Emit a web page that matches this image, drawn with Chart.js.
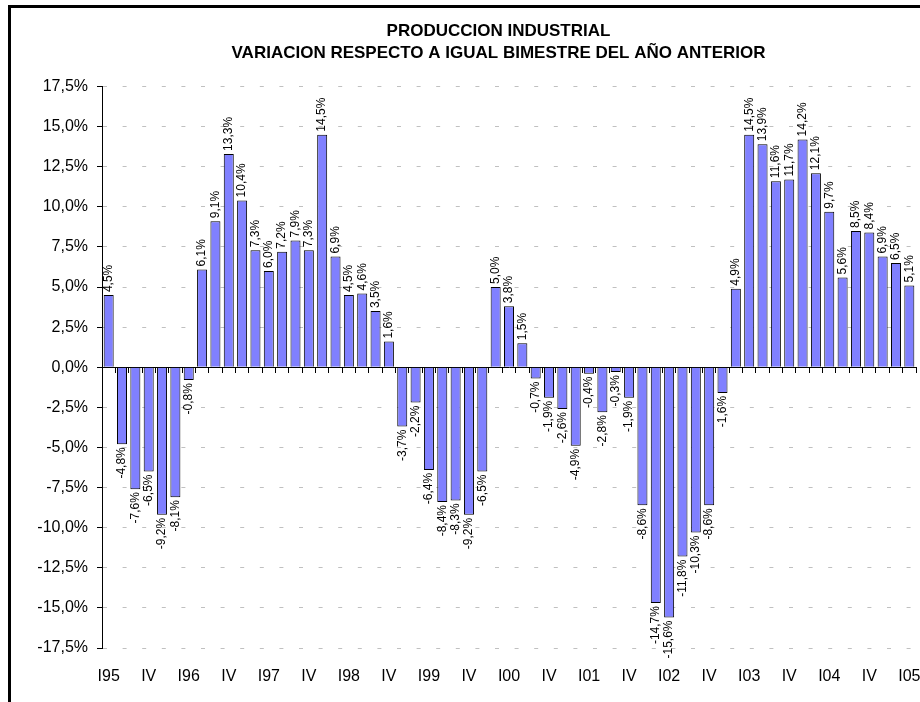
<!DOCTYPE html>
<html>
<head>
<meta charset="utf-8">
<script src="https://cdn.jsdelivr.net/npm/chart.js@4/dist/chart.umd.min.js"></script>
<style>
  html, body { margin: 0; padding: 0; background: #fff; overflow: hidden; }
  #marco { position: absolute; left: 8px; top: 5px; width: 1000px; height: 800px;
           border-top: 3px solid #000; border-left: 3px solid #000; }
  #grafico { position: absolute; left: 0; top: 0; }
</style>
</head>
<body>
<div id="marco">
  <canvas id="grafico" width="975" height="694"></canvas>
</div>
<script>
// Años y bimestres del eje horizontal
const anios = ['95', '96', '97', '98', '99', '00', '01', '02', '03', '04', '05'];
const bimestres = ['I', 'II', 'III', 'IV', 'V', 'VI'];

// Variación % respecto a igual bimestre del año anterior (I95 ... I05)
const valores = [
  4.5, -4.8, -7.6, -6.5, -9.2, -8.1,
  -0.8, 6.1, 9.1, 13.3, 10.4, 7.3,
  6.0, 7.2, 7.9, 7.3, 14.5, 6.9,
  4.5, 4.6, 3.5, 1.6, -3.7, -2.2,
  -6.4, -8.4, -8.3, -9.2, -6.5, 5.0,
  3.8, 1.5, -0.7, -1.9, -2.6, -4.9,
  -0.4, -2.8, -0.3, -1.9, -8.6, -14.7,
  -15.6, -11.8, -10.3, -8.6, -1.6, 4.9,
  14.5, 13.9, 11.6, 11.7, 14.2, 12.1,
  9.7, 5.6, 8.5, 8.4, 6.9, 6.5,
  5.1
];

// etiquetas: I95, II, III, IV, V, VI, I96, ...
const categorias = [];
anios.forEach(a => bimestres.forEach(b => categorias.push(b === 'I' ? 'I' + a : b)));
categorias.length = valores.length;

const fmt = v => v.toFixed(1).replace('.', ',') + '%';
const fuente = '"Liberation Sans", Arial, sans-serif';

// rótulos girados sobre / bajo cada barra
const rotulos = {
  id: 'rotulos',
  afterDatasetsDraw(chart) {
    const ctx = chart.ctx;
    const meta = chart.getDatasetMeta(0);
    ctx.save();
    ctx.font = '12px ' + fuente;
    ctx.fillStyle = '#000';
    ctx.textBaseline = 'middle';
    meta.data.forEach((bar, i) => {
      const v = valores[i];
      ctx.save();
      ctx.translate(bar.x, bar.y);
      ctx.rotate(-Math.PI / 2);
      if (v >= 0) {
        ctx.textAlign = 'left';
        ctx.fillText(fmt(v), 3, 0);
      } else {
        ctx.textAlign = 'right';
        ctx.fillText(fmt(v), -3, 0);
      }
      ctx.restore();
    });
    ctx.restore();
  }
};

new Chart(document.getElementById('grafico'), {
  type: 'bar',
  data: {
    labels: categorias,
    datasets: [{
      data: valores,
      backgroundColor: '#8080ff',
      borderColor: '#000',
      borderWidth: 1,
      barPercentage: 0.75,
      categoryPercentage: 1,
      xAxisID: 'x',
      yAxisID: 'y'
    }]
  },
  options: {
    responsive: false,
    animation: false,
    layout: { padding: 0 },
    plugins: {
      legend: { display: false },
      tooltip: { enabled: false },
      title: {
        display: true,
        text: ['PRODUCCION INDUSTRIAL', 'VARIACION RESPECTO A IGUAL BIMESTRE DEL AÑO ANTERIOR'],
        color: '#000',
        font: { family: fuente, size: 17, weight: 'bold', lineHeight: 1.25 },
        padding: { top: 13, bottom: 23 }
      }
    },
    scales: {
      y: {
        min: -17.5,
        max: 17.5,
        ticks: {
          stepSize: 2.5,
          color: '#000',
          padding: 9,
          font: { family: fuente, size: 16 },
          callback: v => fmt(v)
        },
        grid: {
          color: '#c0c0c0',
          tickColor: '#000',
          tickLength: 5,
          tickBorderDash: []
        },
        // en v4 el guion de las líneas de rejilla va en border.dash
        border: { display: true, color: '#000', width: 1, dash: [4, 15.6] },
        afterFit: s => { s.width = 91; }
      },
      // espacio vacío a la derecha (el gráfico original sigue fuera del recorte)
      yDer: {
        type: 'linear',
        position: 'right',
        display: true,
        grid: { display: false, drawTicks: false },
        border: { display: false },
        ticks: { display: false },
        afterFit: s => { s.width = 70; }
      },
      x: {
        type: 'category',
        position: 'bottom',
        offset: true,
        grid: { display: false, drawTicks: false, offset: true },
        border: { display: false },
        ticks: {
          autoSkip: false,
          maxRotation: 0,
          minRotation: 0,
          color: '#000',
          padding: 19,
          font: { family: fuente, size: 16 },
          callback: (v, i) => (i % 3 === 0 ? categorias[i] : '')
        },
        afterFit: s => { s.height = 54; }
      },
      x2: {
        type: 'category',
        position: { y: 0 },
        offset: true,
        z: 1,
        grid: {
          offset: true,
          drawOnChartArea: false,
          drawTicks: true,
          tickLength: 5,
          tickColor: '#000'
        },
        border: { display: true, color: '#000', width: 1 },
        ticks: { display: false }
      }
    }
  },
  plugins: [rotulos]
});
</script>
</body>
</html>
